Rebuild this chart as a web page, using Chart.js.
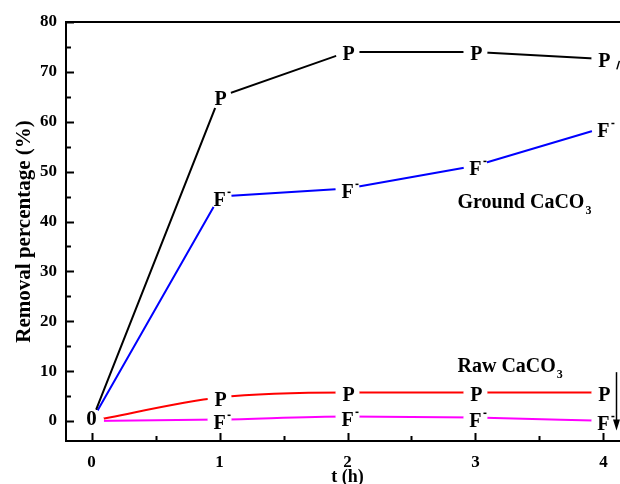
<!DOCTYPE html>
<html>
<head>
<meta charset="utf-8">
<script src="https://cdn.jsdelivr.net/npm/chart.js@4.4.0/dist/chart.umd.min.js"></script>
<style>
    html, body { margin: 0; padding: 0; background: #fff; overflow: hidden; }
    #wrap { width: 620px; height: 484px; overflow: hidden; }
</style>
</head>
<body>
<div id="wrap"><canvas id="chart" width="640" height="484"></canvas></div>
<script>
// removal (%) vs time (h)
const hours = [0, 1, 2, 3, 4];
const groundP = [0, 65, 74, 74, 72.6];
const groundF = [0, 45, 46.6, 51.2, 58.8];
const rawP = [0, 4.7, 5.7, 5.7, 5.7];
const rawF = [0, 0.3, 0.9, 0.7, 0.05];
const xTicks = [0, 1, 2, 3, 4];
const yTicks = [0, 10, 20, 30, 40, 50, 60, 70, 80];

const SERIF = '"Liberation Serif", "Times New Roman", serif';

function series(values, color, marker, smooth) {
    return {
        data: hours.map((h, i) => ({ x: h, y: values[i] })),
        borderColor: color,
        borderWidth: 2,
        pointRadius: 0,
        tension: 0,
        cubicInterpolationMode: smooth ? 'monotone' : 'default',
        marker: marker
    };
}

// inward ticks + top edge of the frame
const frameTicks = {
    id: 'frameTicks',
    beforeDatasetsDraw(chart) {
        const { ctx, chartArea: a, scales: { x, y } } = chart;
        ctx.save();
        ctx.strokeStyle = '#000';
        ctx.lineWidth = 2;
        ctx.beginPath();
        ctx.moveTo(a.left - 1, a.top);
        ctx.lineTo(a.right + 1, a.top);
        for (let v = 0; v <= 80; v += 5) {
            const py = Math.round(y.getPixelForValue(v)) + 0.5;
            const len = v % 10 === 0 ? 8 : 5;
            ctx.moveTo(a.left, py);
            ctx.lineTo(a.left + len, py);
        }
        for (let v = 0; v <= 4; v += 0.5) {
            const px = Math.round(x.getPixelForValue(v)) + 0.5;
            const len = v % 1 === 0 ? 8 : 5;
            ctx.moveTo(px, a.bottom);
            ctx.lineTo(px, a.bottom - len);
        }
        ctx.stroke();
        ctx.restore();
    }
};

// text markers drawn over the curves, with a knocked-out gap
const markers = {
    id: 'markers',
    afterDatasetsDraw(chart) {
        const { ctx, scales: { x, y } } = chart;
        ctx.save();
        ctx.fillStyle = '#fff';
        chart.data.datasets.forEach((ds, i) => {
            chart.getDatasetMeta(i).data.forEach(pt => {
                ctx.beginPath();
                ctx.arc(pt.x, pt.y, 12, 0, Math.PI * 2);
                ctx.fill();
            });
        });

        ctx.fillStyle = '#000';
        ctx.textAlign = 'center';
        ctx.textBaseline = 'alphabetic';
        chart.data.datasets.forEach((ds, i) => {
            chart.getDatasetMeta(i).data.forEach((pt, j) => {
                if (j === 0) return;
                ctx.font = 'bold 20px ' + SERIF;
                if (ds.marker === 'P') {
                    ctx.fillText('P', pt.x + 1, pt.y + 8);
                } else {
                    ctx.fillText('F', pt.x, pt.y + 9);
                    ctx.fillRect(pt.x + 8, pt.y - 5, 3, 1.5);
                }
            });
        });
        ctx.font = 'bold 21px ' + SERIF;
        ctx.fillText('0', x.getPixelForValue(0), y.getPixelForValue(0) + 4);

        // sample labels
        const subText = (main, sub, vx, vy) => {
            const px = x.getPixelForValue(vx), py = y.getPixelForValue(vy);
            ctx.textAlign = 'left';
            ctx.font = 'bold 20px ' + SERIF;
            ctx.fillText(main, px, py);
            const w = ctx.measureText(main).width;
            ctx.font = 'bold 12px ' + SERIF;
            ctx.fillText(sub, px + w + 1, py + 6);
        };
        subText('Ground CaCO', '3', 2.86, 42.8);
        subText('Raw CaCO', '3', 2.86, 9.8);

        // arrow at the right edge
        const ax = Math.round(x.getPixelForValue(4.1)) + 0.5;
        const top = y.getPixelForValue(9.8), tip = y.getPixelForValue(-1.9);
        ctx.strokeStyle = '#000';
        ctx.lineWidth = 1.5;
        ctx.beginPath();
        ctx.moveTo(ax, top);
        ctx.lineTo(ax, tip - 8);
        ctx.stroke();
        ctx.beginPath();
        ctx.moveTo(ax - 3.5, tip - 11);
        ctx.lineTo(ax + 3.5, tip - 11);
        ctx.lineTo(ax, tip);
        ctx.closePath();
        ctx.fill();
        ctx.beginPath();
        ctx.moveTo(x.getPixelForValue(4.105), y.getPixelForValue(70.5));
        ctx.lineTo(x.getPixelForValue(4.125), y.getPixelForValue(72.2));
        ctx.stroke();
        ctx.restore();
    }
};

const tickFont = { family: SERIF, weight: 'bold', size: 17 };

new Chart(document.getElementById('chart'), {
    type: 'line',
    data: {
        datasets: [
            series(groundP, '#000000', 'P', false),
            series(groundF, '#0000ff', 'F', false),
            series(rawP, '#ff0000', 'P', true),
            series(rawF, '#ff00ff', 'F', true)
        ]
    },
    options: {
        responsive: false,
        animation: false,
        devicePixelRatio: 1,
        layout: { padding: { top: 22, right: 11, left: 0, bottom: 0 } },
        plugins: { legend: { display: false }, tooltip: { enabled: false } },
        scales: {
            x: {
                type: 'linear',
                min: -0.2,
                max: 4.2,
                afterFit(s) { s.height = 43; },
                afterBuildTicks(s) { s.ticks = xTicks.map(v => ({ value: v })); },
                grid: { display: true, drawOnChartArea: false, drawTicks: false },
                border: { display: true, width: 2, color: '#000' },
                ticks: { font: tickFont, color: '#000', padding: 11, maxRotation: 0 },
                title: {
                    display: true, text: 't (h)', color: '#000',
                    font: { family: SERIF, weight: 'bold', size: 18 },
                    padding: { top: 0, bottom: -4 }
                }
            },
            y: {
                type: 'linear',
                min: -4,
                max: 80,
                afterFit(s) { s.width = 66; },
                afterBuildTicks(s) { s.ticks = yTicks.map(v => ({ value: v })); },
                grid: { display: true, drawOnChartArea: false, drawTicks: false },
                border: { display: true, width: 2, color: '#000' },
                ticks: { font: tickFont, color: '#000', padding: 9 },
                title: {
                    display: true, text: 'Removal percentage (%)', color: '#000',
                    font: { family: SERIF, weight: 'bold', size: 21 },
                    padding: { top: 12, bottom: 0 }
                }
            }
        }
    },
    plugins: [frameTicks, markers]
});
</script>
</body>
</html>
